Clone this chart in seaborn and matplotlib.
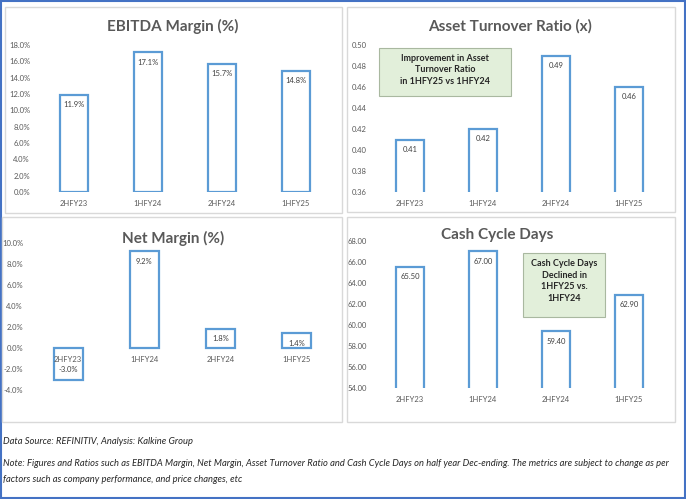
import seaborn as sns
import matplotlib.pyplot as plt
from matplotlib.patches import Rectangle

# data
periods = ["2HFY23", "1HFY24", "2HFY24", "1HFY25"]
ebitda_margin = [11.9, 17.1, 15.7, 14.8]
asset_turnover = [0.41, 0.42, 0.49, 0.46]
net_margin = [-3.0, 9.2, 1.8, 1.4]
cash_cycle_days = [65.50, 67.00, 59.40, 62.90]

ebitda_ticks = [0, 2, 4, 6, 8, 10, 12, 14, 16, 18]
asset_ticks = [0.36, 0.38, 0.40, 0.42, 0.44, 0.46, 0.48, 0.50]
net_ticks = [-4, -2, 0, 2, 4, 6, 8, 10]
cash_ticks = [54, 56, 58, 60, 62, 64, 66, 68]

sns.set_style("white")
plt.rcParams['font.family'] = ['Lato', 'DejaVu Sans']

W, H = 686, 499
BLUE = "#5b9bd5"
GREY = "#595959"

fig = plt.figure(figsize=(W / 100, H / 100), dpi=100)


def px_axes(x0, x1, ytop, ybot):
    return fig.add_axes([x0 / W, 1 - ybot / H, (x1 - x0) / W, (ybot - ytop) / H])


def px_rect(x0, y0, x1, y1, **kw):
    fig.patches.append(Rectangle((x0 / W, 1 - y1 / H), (x1 - x0) / W, (y1 - y0) / H,
                                 transform=fig.transFigure, **kw))


# outer frame and panel frames
px_rect(1, 1, 685, 498, fill=False, edgecolor="#4472c4", linewidth=1.5)
for x0, y0, x1, y1 in [(5, 7, 342, 213), (347, 7, 675, 212), (2, 217, 342, 422), (347, 217, 675, 422)]:
    px_rect(x0, y0, x1, y1, fill=False, edgecolor="#d9d9d9", linewidth=1)


def draw_panel(ax, values, ticks, fmt, title, title_xy):
    sns.barplot(x=periods, y=values, ax=ax, color="white", edgecolor=BLUE,
                linewidth=1.6, width=0.38, saturation=1)
    ax.set_axisbelow(False)
    ax.set_ylim(ticks[0], ticks[-1])
    ax.set_xlim(-0.5, len(periods) - 0.5)
    ax.set_yticks(ticks)
    ax.set_yticklabels([fmt(t) for t in ticks])
    ax.tick_params(axis="both", length=0, labelsize=5.5, labelcolor=GREY)
    ax.tick_params(axis="y", pad=5)
    ax.tick_params(axis="x", pad=6)
    ax.set_xlabel("")
    ax.set_ylabel("")
    for s in ax.spines.values():
        s.set_visible(False)
    ax.patch.set_alpha(0)
    for i, v in enumerate(values):
        off = -7 if v >= 0 else 7
        ax.annotate(fmt(v), (i, v), xytext=(0, off), textcoords="offset points",
                    ha="center", va="center", fontsize=5.5, color="#404040")
    fig.text(title_xy[0] / W, 1 - title_xy[1] / H, title, ha="center", va="center",
             fontsize=11, fontweight="bold", color=GREY)


pct = lambda v: f"{v:.1f}%"
two = lambda v: f"{v:.2f}"

ax1 = px_axes(37, 333, 45, 192)
draw_panel(ax1, ebitda_margin, ebitda_ticks, pct, "EBITDA Margin (%)", (173, 26))

ax2 = px_axes(373.5, 665.5, 45, 192)
draw_panel(ax2, asset_turnover, asset_ticks, two, "Asset Turnover Ratio (x)", (510, 26))

ax3 = px_axes(30, 335, 243, 390)
draw_panel(ax3, net_margin, net_ticks, pct, "Net Margin (%)", (173, 238))
ax3.spines["bottom"].set_position(("data", 0))

ax4 = px_axes(373.5, 665.5, 241, 388)
draw_panel(ax4, cash_cycle_days, cash_ticks, two, "Cash Cycle Days", (497, 235))

# callout boxes
px_rect(379, 48, 511, 96, facecolor="#e2efda", edgecolor="#a9b8a0", linewidth=0.8)
fig.text(445 / W, 1 - 70 / H, "Improvement in Asset\nTurnover Ratio\nin 1HFY25 vs 1HFY24",
         ha="center", va="center", fontsize=6.5, fontweight="bold", color="#262626",
         linespacing=1.35)
px_rect(523, 253, 605, 317, facecolor="#e2efda", edgecolor="#a9b8a0", linewidth=0.8)
fig.text(564 / W, 1 - 281 / H, "Cash Cycle Days\nDeclined in\n1HFY25 vs.\n1HFY24",
         ha="center", va="center", fontsize=6.5, fontweight="bold", color="#262626",
         linespacing=1.35)

# footer
foot = dict(ha="left", va="center", fontsize=6.75, style="italic", color="#262626")
fig.text(3 / W, 1 - 441 / H, "Data Source: REFINITIV, Analysis: Kalkine Group", **foot)
fig.text(3 / W, 1 - 464 / H,
         "Note: Figures and Ratios such as EBITDA Margin, Net Margin, Asset Turnover Ratio and Cash Cycle Days on half year Dec-ending. "
         "The metrics are subject to change as per", **foot)
fig.text(3 / W, 1 - 480 / H, "factors such as company performance, and price changes, etc", **foot)

fig.savefig("out.png", dpi=100)
